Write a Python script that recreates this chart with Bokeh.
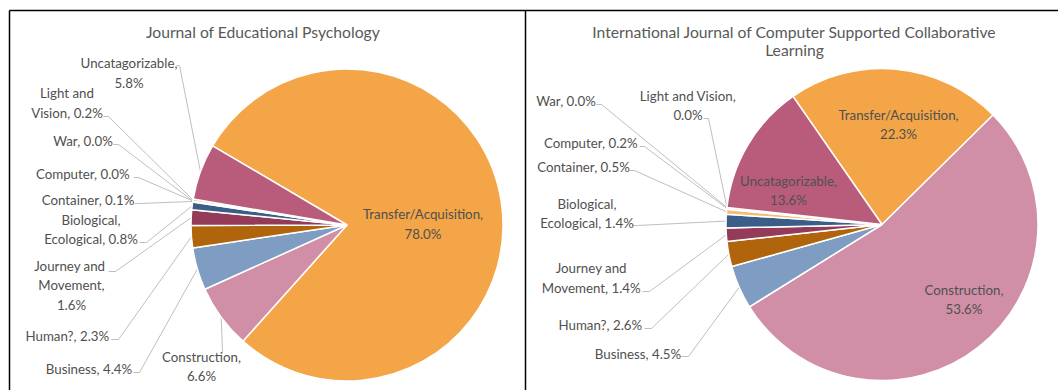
import math
from bokeh.plotting import figure
from bokeh.models import ColumnDataSource, Range1d
from bokeh.core.properties import value
from bokeh.embed import file_html
from bokeh.resources import INLINE

# ---------------- data ----------------
categories = ["Transfer/Acquisition", "Construction", "Business", "Human?",
              "Journey and Movement", "Biological, Ecological", "Container",
              "Computer", "War", "Light and Vision", "Uncatagorizable"]
jep_values = [78.0, 6.6, 4.4, 2.3, 1.6, 0.8, 0.1, 0.0, 0.0, 0.2, 5.8]
ijcscl_values = [22.3, 53.6, 4.5, 2.6, 1.4, 1.4, 0.5, 0.2, 0.0, 0.0, 13.6]
slice_colors = ["#F3A547", "#D08FA6", "#7F9DC3", "#B0650D", "#933B59", "#3A5E87",
                "#F7BA79", "#E0B0C1", "#A9BEDA", "#D9954A", "#B95C7C"]
jep_labels = ["Transfer/Acquisition,\n78.0%", "Construction,\n6.6%", "Business, 4.4%",
              "Human?,  2.3%", "Journey  and\nMovement,\n1.6%", "Biological,\nEcological, 0.8%",
              "Container, 0.1%", "Computer,  0.0%", "War, 0.0%", "Light and\nVision, 0.2%",
              "Uncatagorizable,\n5.8%"]
ijcscl_labels = ["Transfer/Acquisition,\n22.3%", "Construction,\n53.6%", "Business, 4.5%",
                 "Human?,  2.6%", "Journey  and\nMovement,  1.4%", "Biological,\nEcological, 1.4%",
                 "Container, 0.5%", "Computer,  0.2%", "War, 0.0%", "Light and Vision,\n0.0%",
                 "Uncatagorizable,\n13.6%"]
titles = ["Journal of Educational Psychology",
          "International Journal of Computer Supported Collaborative\nLearning"]

# ---------------- layout (reference pixel coordinates) ----------------
W, H = 1058, 390


def X(px):
    return px


def Y(py):
    return H - py


pies = [
    dict(values=jep_values, labels=jep_labels, cx=346.5, cy=224.5, r=156, start=149.5,
         title_xy=(262.5, 31),
         label_xy=[(422.5, 223.5), (201, 366), (88.5, 368), (68.5, 335), (71, 285),
                   (90.5, 229), (87.5, 199), (84, 173), (82.5, 140), (66.5, 102.5),
                   (128.5, 72.5)],
         leader=[None, ((222, 352), (222, 350)), ((133, 372), (139, 372)),
                 ((111, 339), (118, 339)), ((108, 271), (115, 271)),
                 ((139, 242), (146, 242)), ((134, 203), (139, 203)),
                 ((133, 177), (138, 177)), ((113, 144), (118, 144)),
                 ((103, 116), (108, 116)), ((176, 65), (179, 65))]),
    dict(values=ijcscl_values, labels=ijcscl_labels, cx=881.5, cy=224, r=156, start=124.8,
         title_xy=(794, 40.5),
         label_xy=[(898, 124), (963.5, 299), (637.5, 353), (601.5, 324), (592.5, 277.5),
                   (586.5, 213), (583, 166), (592, 142), (565.5, 100), (687.5, 105),
                   (788, 190)],
         leader=[None, None, ((681, 356), (688, 356)), ((644, 328), (651, 328)),
                 ((642, 291), (649, 291)), ((632, 225), (637, 225)),
                 ((629, 170), (634, 170)), ((639, 146), (644, 146)),
                 ((596, 104), (601, 104)), ((703, 118), (708, 118)), None]),
]

p = figure(width=W, height=H, output_backend="svg", toolbar_location=None,
           x_range=Range1d(0, W), y_range=Range1d(0, H),
           x_axis_type=None, y_axis_type=None, min_border=0)
p.grid.visible = False
p.outline_line_color = None
p.background_fill_color = "white"

# panel frames
p.segment(x0=[X(9), X(9), X(525)], y0=[Y(10), Y(10), Y(10)],
          x1=[X(1060), X(9), X(525)], y1=[Y(10), Y(400), Y(400)],
          line_color="black", line_width=1.5)

FONT = value("Lato")

for pie in pies:
    vals = pie["values"]
    total = sum(vals)
    cx, cy, r = pie["cx"], pie["cy"], pie["r"]
    a = pie["start"]
    starts, ends, mids = [], [], []
    for v in vals:
        span = v / total * 360.0
        b = a - span
        starts.append(math.radians(b))
        ends.append(math.radians(a))
        mids.append(math.radians((a + b) / 2))
        a = b
    keep = [i for i, v in enumerate(vals) if v > 0]  # zero slices have no area
    src = ColumnDataSource(dict(x=[X(cx)] * len(keep), y=[Y(cy)] * len(keep),
                                s=[starts[i] for i in keep], e=[ends[i] for i in keep],
                                c=[slice_colors[i] for i in keep],
                                cat=[categories[i] for i in keep]))
    # leader lines
    lx, ly = [], []
    for i, ld in enumerate(pie["leader"]):
        if ld is None:
            continue
        (sx, sy), (kx, ky) = ld
        ex = cx + r * math.cos(mids[i])
        ey = cy - r * math.sin(mids[i])
        lx.append([X(sx), X(kx), X(ex)])
        ly.append([Y(sy), Y(ky), Y(ey)])
    p.multi_line(xs=lx, ys=ly, line_color="#BFBFBF", line_width=1)
    p.wedge(x="x", y="y", radius=r, start_angle="s", end_angle="e",
            direction="anticlock", fill_color="c", line_color="white",
            line_width=1.5, source=src)
    # labels
    lsrc = ColumnDataSource(dict(x=[X(q[0]) for q in pie["label_xy"]],
                                 y=[Y(q[1]) for q in pie["label_xy"]],
                                 t=pie["labels"]))
    p.text(x="x", y="y", text="t", source=lsrc, text_align="center",
           text_baseline="middle", text_font=FONT, text_font_size="13.3px",
           text_color="#505050", text_line_height=1.2)

for t, pie in zip(titles, pies):
    tx, ty = pie["title_xy"]
    p.text(x=[X(tx)], y=[Y(ty)], text=[t], text_align="center",
           text_baseline="middle", text_font=FONT, text_font_size="15.7px",
           text_color="#595959", text_line_height=1.05)

open("out.html", "w").write(file_html(p, INLINE))
